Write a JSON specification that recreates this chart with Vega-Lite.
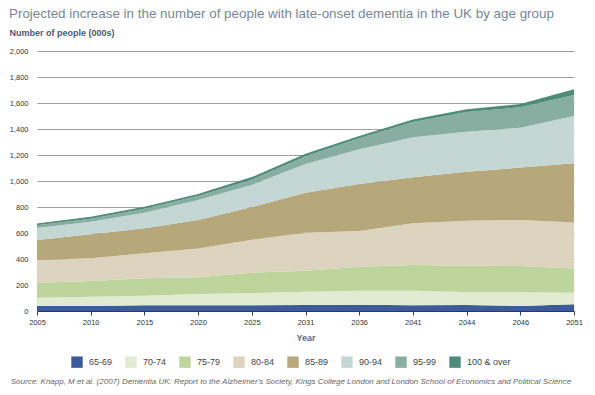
{
  "$schema": "https://vega.github.io/schema/vega-lite/v6.json",
  "autosize": "none",
  "width": 537,
  "height": 260,
  "padding": {"left": 37, "top": 51, "right": 21, "bottom": 84},
  "background": "white",
  "title": {
    "text": "Projected increase in the number of people with late-onset dementia in the UK by age group",
    "anchor": "start",
    "frame": "group",
    "dx": -28,
    "offset": 8,
    "font": "Liberation Sans",
    "fontSize": 13.4,
    "fontWeight": "normal",
    "color": "#7a8696"
  },
  "config": {
    "view": {"stroke": null},
    "font": "Liberation Sans"
  },
  "datasets": {
    "dementia": [
      {"year": "2005", "age": "65-69", "age_from": 65, "n": 38}, {"year": "2005", "age": "70-74", "age_from": 70, "n": 64}, {"year": "2005", "age": "75-79", "age_from": 75, "n": 116}, {"year": "2005", "age": "80-84", "age_from": 80, "n": 174}, {"year": "2005", "age": "85-89", "age_from": 85, "n": 154}, {"year": "2005", "age": "90-94", "age_from": 90, "n": 92}, {"year": "2005", "age": "95-99", "age_from": 95, "n": 21}, {"year": "2005", "age": "100 & over", "age_from": 100, "n": 15},
      {"year": "2010", "age": "65-69", "age_from": 65, "n": 38}, {"year": "2010", "age": "70-74", "age_from": 70, "n": 72}, {"year": "2010", "age": "75-79", "age_from": 75, "n": 121}, {"year": "2010", "age": "80-84", "age_from": 80, "n": 174}, {"year": "2010", "age": "85-89", "age_from": 85, "n": 185}, {"year": "2010", "age": "90-94", "age_from": 90, "n": 97}, {"year": "2010", "age": "95-99", "age_from": 95, "n": 23}, {"year": "2010", "age": "100 & over", "age_from": 100, "n": 15},
      {"year": "2015", "age": "65-69", "age_from": 65, "n": 44}, {"year": "2015", "age": "70-74", "age_from": 70, "n": 74}, {"year": "2015", "age": "75-79", "age_from": 75, "n": 133}, {"year": "2015", "age": "80-84", "age_from": 80, "n": 193}, {"year": "2015", "age": "85-89", "age_from": 85, "n": 192}, {"year": "2015", "age": "90-94", "age_from": 90, "n": 120}, {"year": "2015", "age": "95-99", "age_from": 95, "n": 30}, {"year": "2015", "age": "100 & over", "age_from": 100, "n": 16},
      {"year": "2020", "age": "65-69", "age_from": 65, "n": 45}, {"year": "2020", "age": "70-74", "age_from": 70, "n": 86}, {"year": "2020", "age": "75-79", "age_from": 75, "n": 129}, {"year": "2020", "age": "80-84", "age_from": 80, "n": 220}, {"year": "2020", "age": "85-89", "age_from": 85, "n": 220}, {"year": "2020", "age": "90-94", "age_from": 90, "n": 154}, {"year": "2020", "age": "95-99", "age_from": 95, "n": 31}, {"year": "2020", "age": "100 & over", "age_from": 100, "n": 15},
      {"year": "2025", "age": "65-69", "age_from": 65, "n": 45}, {"year": "2025", "age": "70-74", "age_from": 70, "n": 93}, {"year": "2025", "age": "75-79", "age_from": 75, "n": 157}, {"year": "2025", "age": "80-84", "age_from": 80, "n": 253}, {"year": "2025", "age": "85-89", "age_from": 85, "n": 252}, {"year": "2025", "age": "90-94", "age_from": 90, "n": 170}, {"year": "2025", "age": "95-99", "age_from": 95, "n": 40}, {"year": "2025", "age": "100 & over", "age_from": 100, "n": 20},
      {"year": "2031", "age": "65-69", "age_from": 65, "n": 46}, {"year": "2031", "age": "70-74", "age_from": 70, "n": 102}, {"year": "2031", "age": "75-79", "age_from": 75, "n": 162}, {"year": "2031", "age": "80-84", "age_from": 80, "n": 292}, {"year": "2031", "age": "85-89", "age_from": 85, "n": 308}, {"year": "2031", "age": "90-94", "age_from": 90, "n": 220}, {"year": "2031", "age": "95-99", "age_from": 95, "n": 60}, {"year": "2031", "age": "100 & over", "age_from": 100, "n": 20},
      {"year": "2036", "age": "65-69", "age_from": 65, "n": 48}, {"year": "2036", "age": "70-74", "age_from": 70, "n": 108}, {"year": "2036", "age": "75-79", "age_from": 75, "n": 185}, {"year": "2036", "age": "80-84", "age_from": 80, "n": 274}, {"year": "2036", "age": "85-89", "age_from": 85, "n": 362}, {"year": "2036", "age": "90-94", "age_from": 90, "n": 267}, {"year": "2036", "age": "95-99", "age_from": 95, "n": 84}, {"year": "2036", "age": "100 & over", "age_from": 100, "n": 18},
      {"year": "2041", "age": "65-69", "age_from": 65, "n": 44}, {"year": "2041", "age": "70-74", "age_from": 70, "n": 112}, {"year": "2041", "age": "75-79", "age_from": 75, "n": 198}, {"year": "2041", "age": "80-84", "age_from": 80, "n": 321}, {"year": "2041", "age": "85-89", "age_from": 85, "n": 353}, {"year": "2041", "age": "90-94", "age_from": 90, "n": 308}, {"year": "2041", "age": "95-99", "age_from": 95, "n": 118}, {"year": "2041", "age": "100 & over", "age_from": 100, "n": 20},
      {"year": "2044", "age": "65-69", "age_from": 65, "n": 46}, {"year": "2044", "age": "70-74", "age_from": 70, "n": 100}, {"year": "2044", "age": "75-79", "age_from": 75, "n": 203}, {"year": "2044", "age": "80-84", "age_from": 80, "n": 346}, {"year": "2044", "age": "85-89", "age_from": 85, "n": 377}, {"year": "2044", "age": "90-94", "age_from": 90, "n": 307}, {"year": "2044", "age": "95-99", "age_from": 95, "n": 152}, {"year": "2044", "age": "100 & over", "age_from": 100, "n": 20},
      {"year": "2046", "age": "65-69", "age_from": 65, "n": 38}, {"year": "2046", "age": "70-74", "age_from": 70, "n": 106}, {"year": "2046", "age": "75-79", "age_from": 75, "n": 202}, {"year": "2046", "age": "80-84", "age_from": 80, "n": 354}, {"year": "2046", "age": "85-89", "age_from": 85, "n": 403}, {"year": "2046", "age": "90-94", "age_from": 90, "n": 307}, {"year": "2046", "age": "95-99", "age_from": 95, "n": 157}, {"year": "2046", "age": "100 & over", "age_from": 100, "n": 25},
      {"year": "2051", "age": "65-69", "age_from": 65, "n": 52}, {"year": "2051", "age": "70-74", "age_from": 70, "n": 89}, {"year": "2051", "age": "75-79", "age_from": 75, "n": 185}, {"year": "2051", "age": "80-84", "age_from": 80, "n": 354}, {"year": "2051", "age": "85-89", "age_from": 85, "n": 456}, {"year": "2051", "age": "90-94", "age_from": 90, "n": 364}, {"year": "2051", "age": "95-99", "age_from": 95, "n": 162}, {"year": "2051", "age": "100 & over", "age_from": 100, "n": 43}
    ]
  },
  "data": {"name": "dementia"},
  "mark": {"type": "area", "interpolate": "linear", "strokeWidth": 0},
  "encoding": {
    "x": {
      "field": "year",
      "type": "ordinal",
      "scale": {"type": "point", "padding": 0},
      "axis": {
        "title": "Year",
        "titleFontSize": 9,
        "titleFontWeight": "bold",
        "titleColor": "#5b6b82",
        "titlePadding": 8,
        "labelAngle": 0,
        "labelFontSize": 7.5,
        "labelColor": "#333333",
        "labelPadding": 3,
        "tickSize": 4,
        "tickColor": "#2a3a5a",
        "domainColor": "#2a3a5a",
        "domainWidth": 1,
        "grid": false
      }
    },
    "y": {
      "field": "n",
      "type": "quantitative",
      "stack": "zero",
      "scale": {"domain": [0, 2000], "nice": false},
      "axis": {
        "title": "Number of people (000s)",
        "titleAngle": 0,
        "titleAlign": "left",
        "titleBaseline": "middle",
        "titleX": -28,
        "titleY": -19,
        "titleFontSize": 9,
        "titleFontWeight": "bold",
        "titleColor": "#4a5a72",
        "values": [0, 200, 400, 600, 800, 1000, 1200, 1400, 1600, 1800, 2000],
        "format": ",d",
        "labelFontSize": 7.5,
        "labelColor": "#333333",
        "labelPadding": 9,
        "ticks": false,
        "tickSize": 0,
        "domain": false,
        "grid": true,
        "gridColor": "#a0a0a0",
        "gridWidth": 1
      }
    },
    "color": {
      "field": "age",
      "type": "nominal",
      "scale": {
        "domain": ["65-69", "70-74", "75-79", "80-84", "85-89", "90-94", "95-99", "100 & over"],
        "range": ["#3b5b9a", "#e1ebd2", "#bdd59d", "#dcd4bf", "#b6a87a", "#c4d7d4", "#88ada1", "#4e8c79"]
      },
      "legend": {
        "orient": "none",
        "legendX": -26,
        "legendY": 305,
        "direction": "horizontal",
        "symbolType": "square",
        "symbolSize": 130,
        "symbolStrokeWidth": 0,
        "symbolOpacity": 1,
        "labelFontSize": 9,
        "labelColor": "#444444",
        "labelOffset": 6,
        "columnPadding": 12,
        "title": "Source: Knapp, M et al. (2007) Dementia UK: Report to the Alzheimer's Society, Kings College London and London School of Economics and Political Science",
        "titleOrient": "bottom",
        "titleAnchor": "middle",
        "titleFontSize": 8,
        "titleFontWeight": "normal",
        "titleFontStyle": "italic",
        "titleColor": "#666666",
        "titleLimit": 2000,
        "titlePadding": 10
      }
    },
    "order": {"field": "age_from", "type": "quantitative", "sort": "ascending"}
  }
}
